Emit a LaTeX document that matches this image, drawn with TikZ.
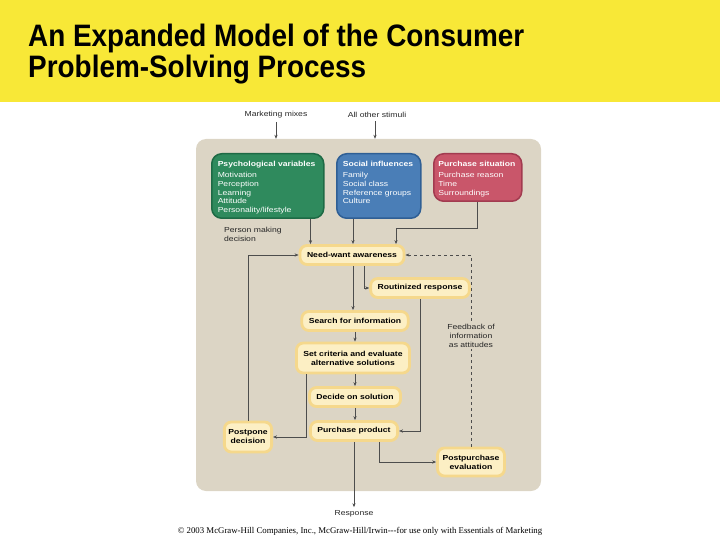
\documentclass[tikz,border=0pt]{standalone}
\usepackage{fontspec}
\setmainfont{Liberation Sans}
\newfontfamily\diagfont[FakeStretch=1.18]{Liberation Sans}
\newfontfamily\titlefont[FakeStretch=0.9]{Liberation Sans}
\newfontfamily\copyfont{Liberation Serif}
\usetikzlibrary{arrows.meta,positioning}
\definecolor{titlebg}{HTML}{F8E837}
\definecolor{panelbg}{HTML}{DCD5C5}
\definecolor{psychbg}{HTML}{2F8A5D}
\definecolor{psychacc}{HTML}{1E6A45}
\definecolor{socialbg}{HTML}{4A7EB7}
\definecolor{socialacc}{HTML}{2F5F95}
\definecolor{situbg}{HTML}{C9566A}
\definecolor{situacc}{HTML}{A23B50}
\definecolor{stepbg}{HTML}{FCEFC4}
\definecolor{stepacc}{HTML}{F5D88C}
\definecolor{linecol}{HTML}{4D4D4D}

\begin{document}
\begin{tikzpicture}[
  x=1pt, y=-1pt,
  stepbox/.style={
    rectangle,
    rounded corners=7pt,
    fill=stepbg,
    draw=stepacc,
    line width=2.8pt,
    minimum height=19pt,
    inner xsep=7pt,
    inner ysep=2pt,
    align=center,
    font=\diagfont\fontsize{7.3}{9}\selectfont\bfseries
  },
  catbox/.style={
    rectangle,
    rounded corners=10pt,
    line width=1.5pt,
    anchor=north west,
    text=white,
    align=left,
    inner xsep=6pt,
    inner ysep=5pt,
    text height=8pt,
    font=\diagfont\fontsize{7.3}{8.7}\selectfont
  },
  lbl/.style={font=\diagfont\fontsize{7.3}{9}\selectfont, text=black!85},
  flow/.style={draw=linecol, line width=0.6pt, -{Stealth[length=4pt,width=3.2pt]}}
]
\useasboundingbox (0,0) rectangle (720,540);

% --- title bar ---
\fill[titlebg] (0,0) rectangle (720,102);
\node[anchor=north west, align=left, inner sep=0pt,
  font=\titlefont\fontsize{31}{31}\selectfont\bfseries] (title) at (28,23.5)
  {An Expanded Model of the Consumer\\Problem-Solving Process};

% --- panel ---
\node[rectangle, rounded corners=10pt, fill=panelbg, minimum width=345pt,
  minimum height=352pt] (panel) at (368.5,315) {};

% --- influences ---
\node[catbox, fill=psychbg, draw=psychacc, text width=100pt, text depth=46.5pt] (psych) at (211,153)
  {\textbf{Psychological variables}\\[2.3pt]Motivation\\Perception\\Learning\\Attitude\\Personality/lifestyle};
\node[catbox, fill=socialbg, draw=socialacc, text width=72pt, text depth=46.5pt] (social) at (336,153)
  {\textbf{Social influences}\\[2.3pt]Family\\Social class\\Reference groups\\Culture};
\node[catbox, fill=situbg, draw=situacc, text width=79pt, inner xsep=4.5pt, text depth=29.5pt] (situ) at (433,153)
  {\textbf{Purchase situation}\\[2.3pt]Purchase reason\\Time\\Surroundings};

\node[lbl, anchor=north west, align=left, inner sep=0pt] (person) at (224,227) {Person making\\decision};

% --- stimuli ---
\node[lbl] (mix) at (276,115) {Marketing mixes};
\node[lbl] (stim) at (377,115) {All other stimuli};
\draw[flow] (mix.south) -- (mix.south |- panel.north);
\draw[flow] ([xshift=-2pt]stim.south) -- ([xshift=-2pt]stim.south |- panel.north);

% --- process steps ---
\foreach \n/\x/\y/\t in {need/352/255/Need-want awareness, rout/420/288/Routinized response,
  search/355/321/Search for information, decide/355/397/Decide on solution, purch/354/431/Purchase product}
  \node[stepbox] (\n) at (\x,\y) {\t};
\node[stepbox, minimum height=30pt] (crit) at (353,358) {Set criteria and evaluate\\alternative solutions};
\node[stepbox, minimum height=30pt, inner xsep=4pt] (postpone) at (248,437) {Postpone\\decision};
\node[stepbox, minimum height=28pt, inner xsep=5pt] (postp) at (471,462) {Postpurchase\\evaluation};

\node[lbl] (response) at (354,514) {Response};
\node[font=\copyfont\fontsize{8.8}{10}\selectfont] (copy) at (360,531)
  {\textcopyright{} 2003 McGraw-Hill Companies, Inc., McGraw-Hill/Irwin---for use only with Essentials of Marketing};

% --- connectors ---
\draw[flow] ([xshift=-14pt]psych.south east) coordinate (p1) -- (p1 |- need.north);
\draw[flow] ([xshift=17pt]social.south west) coordinate (s1) -- (s1 |- need.north);
\draw[flow] (situ.south) -- ++(0,26) -| ([xshift=44pt]need.north);
\draw[flow] (postpone.north) |- (need.west);
\draw[flow] ([xshift=1pt]need.south) coordinate (n1) -- (n1 |- search.north);
\draw[flow] ([xshift=12pt]need.south) |- (rout.west);
\draw[flow] (rout.south) |- (purch.east);
\draw[flow] (search.south) -- (search.south |- crit.north);
\draw[flow] ([xshift=11pt]crit.south west) |- (postpone.east);
\draw[flow] (crit.south -| decide.north) -- (decide.north);
\draw[flow] (decide.south) -- (decide.south |- purch.north);
\draw[flow] ([xshift=25pt]purch.south) |- (postp.west);
\draw[flow] (purch.south) -- (response.north);
\draw[flow, dashed] (postp.north) |- node[pos=0.29, lbl, fill=panelbg, align=center, inner sep=2pt]
  {Feedback of\\information\\as attitudes} (need.east);

\end{tikzpicture}
\end{document}
